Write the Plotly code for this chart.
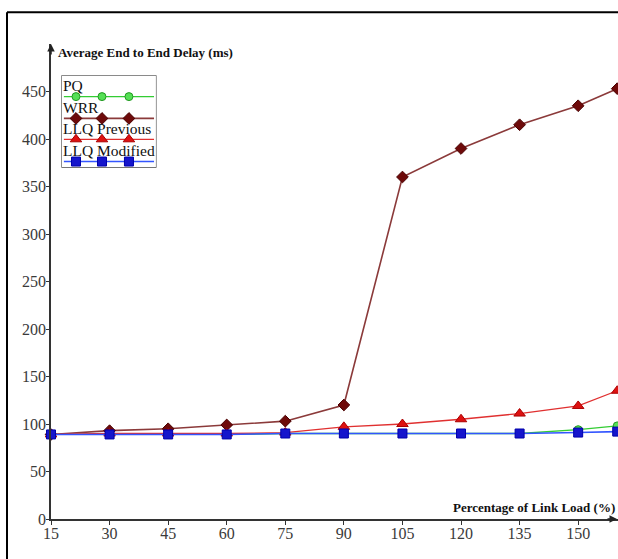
import plotly.graph_objects as go

# ---- data ----
load = [15, 30, 45, 60, 75, 90, 105, 120, 135, 150, 160]
pq = [89, 89, 89, 89, 90, 90, 90, 90, 90, 94, 98]
wrr = [89, 93, 95, 99, 103, 120, 360, 390, 415, 435, 453]
llq_prev = [89, 90, 90, 90, 91, 97, 100, 105, 111, 119, 135]
llq_mod = [89, 89, 89, 89, 90, 90, 90, 90, 90, 91, 92]
x_ticks = [15, 30, 45, 60, 75, 90, 105, 120, 135, 150]
y_ticks = [0, 50, 100, 150, 200, 250, 300, 350, 400, 450]
series_names = ["PQ", "WRR", "LLQ Previous", "LLQ Modified"]

styles = [
    dict(line=dict(color="#33cc33", width=1.3),
         marker=dict(symbol="circle", size=8, color="#55e055", line=dict(color="#229922", width=1))),
    dict(line=dict(color="#8b3a3a", width=1.6),
         marker=dict(symbol="diamond", size=9, color="#6e0a0a", line=dict(color="#4a0000", width=1))),
    dict(line=dict(color="#e03030", width=1.3),
         marker=dict(symbol="triangle-up", size=10, color="#dd1111", line=dict(color="#aa0000", width=1))),
    dict(line=dict(color="#3355ff", width=1.6),
         marker=dict(symbol="square", size=9, color="#1515cc", line=dict(color="#0000aa", width=1))),
]

fig = go.Figure()
for name, vals, st in zip(series_names, [pq, wrr, llq_prev, llq_mod], styles):
    fig.add_trace(go.Scatter(x=load, y=vals, mode="lines+markers", name=name,
                             line=st["line"], marker=st["marker"], cliponaxis=False,
                             showlegend=False))

font = dict(family="Liberation Serif", size=16, color="#3a3a3a")

annotations = [
    dict(x=0, y=1, xref="paper", yref="paper", ax=0, ay=12,
         showarrow=True, arrowhead=2, arrowsize=1, arrowwidth=1.5, arrowcolor="#222", text=""),
    dict(x=1, y=0, xref="paper", yref="paper", ax=-12, ay=0,
         showarrow=True, arrowhead=2, arrowsize=1, arrowwidth=1.5, arrowcolor="#222", text=""),
    dict(x=0.009, y=0.983, xref="paper", yref="paper", xanchor="left", yanchor="middle",
         text="<b>Average End to End Delay (ms)</b>", showarrow=False,
         font=dict(family="Liberation Serif", size=13, color="#111")),
    dict(x=0.998, y=0.024, xref="paper", yref="paper", xanchor="right", yanchor="middle",
         text="<b>Percentage of Link Load (%)</b>", showarrow=False,
         font=dict(family="Liberation Serif", size=13, color="#111")),
]

# ---- custom legend (text above a sample line with three markers) ----
line_pos = [0.772, 0.533, 0.304, 0.06]
text_pos = [0.89, 0.65, 0.42, 0.18]
for name, st, ly, ty in zip(series_names, styles, line_pos, text_pos):
    fig.add_trace(go.Scatter(x=[0.02, 0.98], y=[ly, ly], mode="lines", line=st["line"],
                             xaxis="x2", yaxis="y2", showlegend=False, hoverinfo="skip"))
    fig.add_trace(go.Scatter(x=[0.149, 0.426, 0.713], y=[ly] * 3, mode="markers", marker=st["marker"],
                             xaxis="x2", yaxis="y2", showlegend=False, hoverinfo="skip"))
    annotations.append(dict(x=0.0, y=ty, xref="x2", yref="y2", text=name, showarrow=False,
                            xanchor="left", yanchor="middle", borderpad=0,
                            font=dict(family="Liberation Serif", size=15.5, color="#111")))

fig.update_layout(
    width=618, height=559,
    margin=dict(l=51, r=0, t=44, b=40),
    paper_bgcolor="white", plot_bgcolor="white",
    xaxis=dict(range=[15, 160.2], tickvals=x_ticks, ticks="outside", ticklen=4,
               tickcolor="#333", showline=True, linecolor="#333", linewidth=1.5,
               showgrid=False, zeroline=False, tickfont=font, ticklabelstandoff=-5),
    yaxis=dict(range=[0, 500], tickvals=y_ticks, ticks="outside", ticklen=3,
               tickcolor="#333", showline=True, linecolor="#333", linewidth=1.5,
               showgrid=False, zeroline=False, tickfont=font, ticklabelstandoff=-3),
    xaxis2=dict(domain=[0.0194, 0.185], range=[0, 1], visible=False, anchor="y2"),
    yaxis2=dict(domain=[0.741, 0.933], range=[0, 1], visible=False, anchor="x2"),
    shapes=[
        dict(type="rect", xref="x2 domain", yref="y2 domain", x0=0, x1=1, y0=0, y1=1,
             line=dict(color="#444", width=1.2), fillcolor="rgba(0,0,0,0)", layer="below"),
        dict(type="line", xref="paper", yref="paper", x0=-0.0776, x1=-0.0776, y0=-0.1, y1=1.067,
             line=dict(color="black", width=2)),
        dict(type="line", xref="paper", yref="paper", x0=-0.0776, x1=1.05, y0=1.067, y1=1.067,
             line=dict(color="black", width=2)),
    ],
    annotations=annotations,
)

fig.write_html("out.html")
